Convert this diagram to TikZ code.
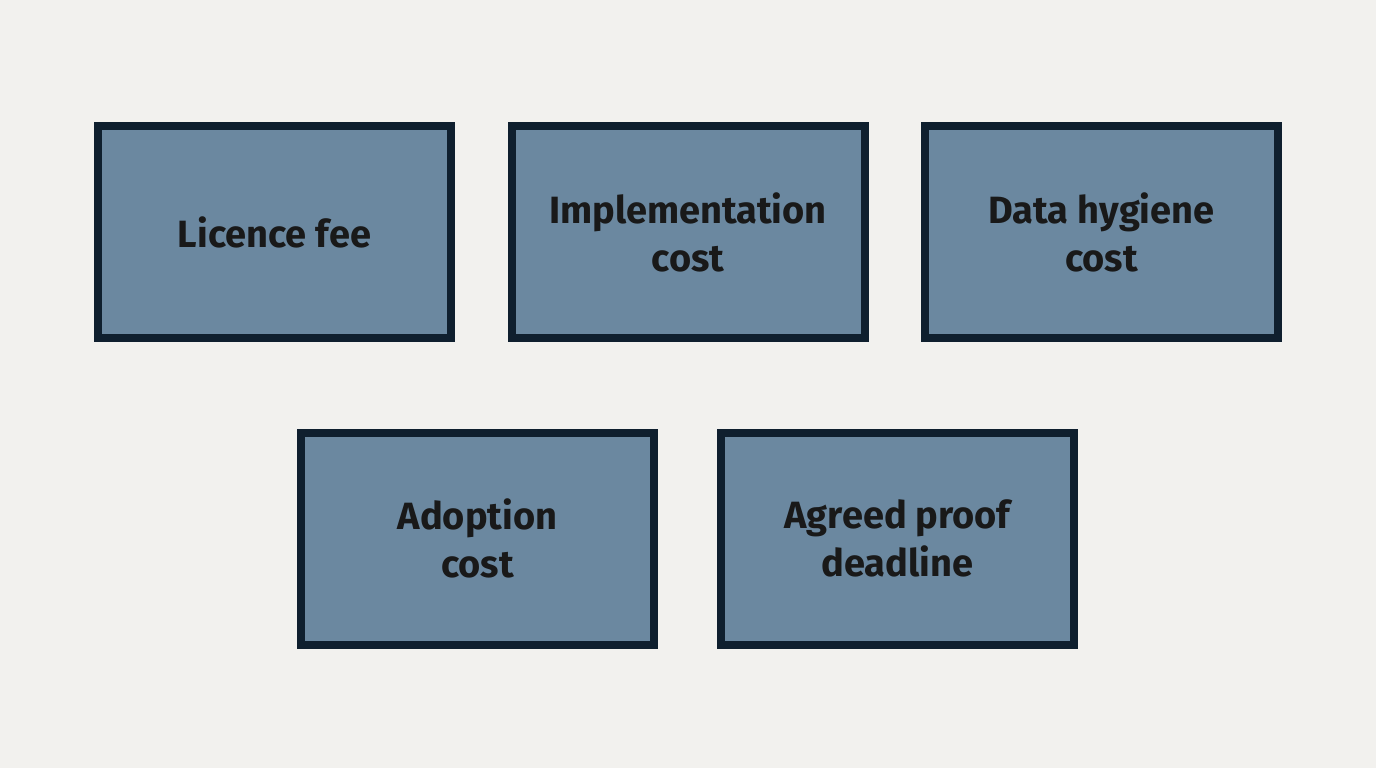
\documentclass[tikz,border=0pt]{standalone}
\usepackage{fontspec}
\setmainfont{Fira Sans}
\begin{document}
\begin{tikzpicture}[x=1pt,y=-1pt,
  box/.style={draw=boxline,fill=boxfill,line width=8pt,minimum width=353pt,minimum height=212pt,inner sep=0pt,align=center,font=\fontsize{38}{48}\selectfont\bfseries,text=black!90}]
\definecolor{bg}{HTML}{F2F1EE}
\definecolor{boxline}{HTML}{0F1F2E}
\definecolor{boxfill}{HTML}{6B88A0}
\fill[bg] (0,0) rectangle (1376,768);
\useasboundingbox (0,0) rectangle (1376,768);
\node[box] (a) at (274.5,232) {Licence fee};
\node[box] (b) at (688,232) {Implementation\\cost};
\node[box] (c) at (1101.5,232) {Data hygiene\\cost};
\node[box] (d) at (477.5,538.5) {Adoption\\cost};
\node[box] (e) at (897.5,538.5) {Agreed proof\\deadline};
\end{tikzpicture}
\end{document}
